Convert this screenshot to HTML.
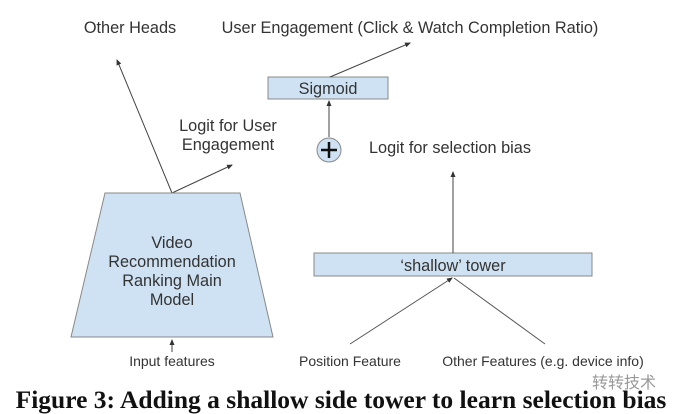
<!DOCTYPE html>
<html><head><meta charset="utf-8"><style>
html,body{margin:0;padding:0;background:#fff}
svg{display:block}
text{font-family:"Liberation Sans",sans-serif;fill:#333;font-size:16.3px}
text.s{font-size:14px}
</style></head><body>
<svg width="678" height="414" viewBox="0 0 678 414" xmlns="http://www.w3.org/2000/svg">
<defs><marker id="a" markerWidth="6" markerHeight="6" refX="5" refY="3" orient="auto"><path d="M0,0.5 L6,3 L0,5.5z" fill="#333"/></marker></defs>
<text x="130" y="33" text-anchor="middle">Other Heads</text>
<text x="410" y="33" text-anchor="middle">User Engagement (Click &amp; Watch Completion Ratio)</text>
<rect x="268" y="77" width="120" height="22" fill="#cfe2f3" stroke="#888"/>
<text x="328" y="94" text-anchor="middle">Sigmoid</text>
<line x1="330" y1="77" x2="410" y2="43" stroke="#444" marker-end="url(#a)"/>
<line x1="329" y1="137" x2="329" y2="101" stroke="#444" marker-end="url(#a)"/>
<circle cx="329" cy="150" r="12" fill="#cfe2f3" stroke="#888"/>
<path d="M321,150 H337 M329,142 V158" stroke="#111" stroke-width="2.5"/>
<text x="228" y="131" text-anchor="middle">Logit for User</text>
<text x="228" y="150" text-anchor="middle">Engagement</text>
<text x="450" y="153" text-anchor="middle">Logit for selection bias</text>
<line x1="172" y1="193" x2="117" y2="60" stroke="#444" marker-end="url(#a)"/>
<line x1="172" y1="193" x2="232" y2="165" stroke="#444" marker-end="url(#a)"/>
<polygon points="105,193 240,193 273,337 71,337" fill="#cfe2f3" stroke="#888"/>
<text x="172" y="248" text-anchor="middle">Video</text>
<text x="172" y="267" text-anchor="middle">Recommendation</text>
<text x="172" y="286" text-anchor="middle">Ranking Main</text>
<text x="172" y="305" text-anchor="middle">Model</text>
<line x1="172" y1="352" x2="172" y2="340" stroke="#444" marker-end="url(#a)"/>
<text class="s" x="172" y="366" text-anchor="middle">Input features</text>
<rect x="314" y="253" width="278" height="23" fill="#cfe2f3" stroke="#888"/>
<text x="453" y="271" text-anchor="middle">‘shallow’ tower</text>
<line x1="453" y1="253" x2="453" y2="172" stroke="#444" marker-end="url(#a)"/>
<line x1="350" y1="344" x2="452" y2="278" stroke="#555" marker-end="url(#a)"/>
<line x1="545" y1="344" x2="454" y2="278" stroke="#555"/>
<text class="s" x="350" y="366" text-anchor="middle">Position Feature</text>
<text class="s" x="543" y="366" text-anchor="middle">Other Features (e.g. device info)</text>
<text x="592" y="388" style="font-family:'Noto Sans CJK SC',sans-serif;font-size:16px;fill:#999">转转技术</text>
<text x="341" y="408" text-anchor="middle" style="font-family:'Liberation Serif',serif;font-weight:bold;font-size:25.5px;fill:#111">Figure 3: Adding a shallow side tower to learn selection bias</text>
</svg>
</body></html>
